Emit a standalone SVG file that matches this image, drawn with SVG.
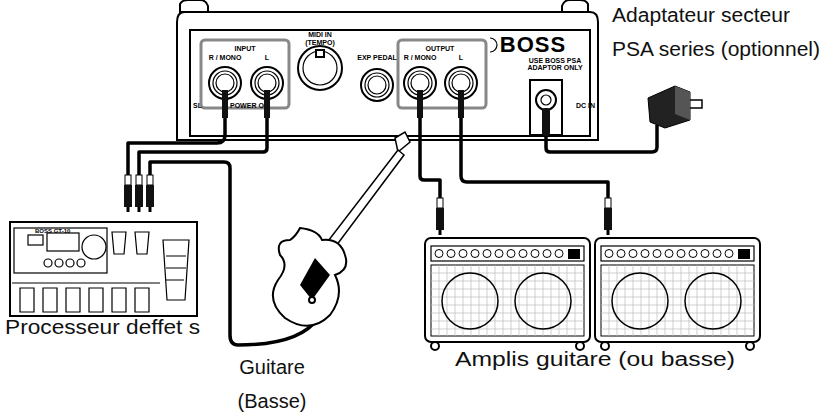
<svg xmlns="http://www.w3.org/2000/svg" width="823" height="418" viewBox="0 0 823 418">
<style>
.o{fill:#fff;stroke:#000;stroke-width:2}
.t{fill:none;stroke:#000;stroke-width:1.2}
.c{fill:none;stroke:#000;stroke-width:3.5;stroke-linejoin:round}
.g{fill:none;stroke:#888;stroke-width:3}
.lb{font-family:"Liberation Sans",Arial,sans-serif;font-size:20px;fill:#111}
.sm{font-family:"Liberation Sans",Arial,sans-serif;font-size:7px;font-weight:bold;fill:#000}
.plug{fill:#111}
</style>
<defs>
<g id="jack"><circle r="16" class="o"/><circle r="12" class="t"/><circle r="9" class="t"/></g>
<g id="plugd"><rect x="-3" y="0" width="6" height="10" fill="#fff" stroke="#000"/><rect x="-4" y="10" width="8" height="22" class="plug"/><rect x="-1.5" y="32" width="3" height="5" fill="#000"/></g>
<g id="amp">
<rect x="0" y="0" width="165" height="104" rx="6" class="o"/>
<rect x="6" y="8" width="153" height="15" class="t"/>
<g fill="#fff" stroke="#000"><circle cx="14" cy="15.5" r="4"/><circle cx="26" cy="15.5" r="4"/><circle cx="38" cy="15.5" r="4"/><circle cx="50" cy="15.5" r="4"/><circle cx="62" cy="15.5" r="4"/><circle cx="74" cy="15.5" r="4"/><circle cx="86" cy="15.5" r="4"/><circle cx="98" cy="15.5" r="4"/><circle cx="110" cy="15.5" r="4"/><circle cx="122" cy="15.5" r="4"/><circle cx="134" cy="15.5" r="4"/></g>
<rect x="143" y="11" width="12" height="10" fill="#000"/>
<rect x="6" y="27" width="153" height="71" fill="#fff" stroke="#000"/>
<path d="M6 35H159M6 43H159M6 51H159M6 59H159M6 67H159M6 75H159M6 83H159M6 91H159M14 27V98M22 27V98M30 27V98M38 27V98M46 27V98M54 27V98M62 27V98M70 27V98M78 27V98M86 27V98M94 27V98M102 27V98M110 27V98M118 27V98M126 27V98M134 27V98M142 27V98M150 27V98" stroke="#bbb" stroke-width="0.7"/>
<circle cx="45" cy="63" r="28" fill="none" stroke="#000" stroke-width="1.5"/>
<circle cx="118" cy="63" r="28" fill="none" stroke="#000" stroke-width="1.5"/>
<circle cx="10" cy="108" r="4" class="o"/><circle cx="155" cy="108" r="4" class="o"/>
</g>
</defs>

<g id="pedal">
<path d="M180 12 V4 Q182 0 188 0 H200 Q206 0 208 6 V12 Z" class="o"/>
<path d="M562 12 V6 Q564 0 570 0 H580 Q586 0 588 4 V12 Z" class="o"/>
<path d="M185 12 H590 Q598 12 598 22 V140 H177 V22 Q177 12 185 12 Z" class="o"/>
<rect x="190" y="30" width="400" height="106" class="o" stroke-width="1.5"/>
<rect x="201" y="40" width="88" height="68" rx="4" class="g"/>
<rect x="398" y="40" width="88" height="68" rx="4" class="g"/>
<text x="245" y="51" class="sm" text-anchor="middle">INPUT</text>
<text x="225" y="60" class="sm" text-anchor="middle">R / MONO</text>
<text x="267" y="60" class="sm" text-anchor="middle">L</text>
<text x="320" y="37" class="sm" text-anchor="middle">MIDI IN</text>
<text x="320" y="45" class="sm" text-anchor="middle">(TEMPO)</text>
<text x="377" y="60" class="sm" text-anchor="middle">EXP PEDAL</text>
<text x="440" y="51" class="sm" text-anchor="middle">OUTPUT</text>
<text x="420" y="60" class="sm" text-anchor="middle">R / MONO</text>
<text x="461" y="60" class="sm" text-anchor="middle">L</text>
<text x="193" y="108" class="sm">SL</text>
<text x="230" y="108" class="sm">POWER ON</text>
<text x="555" y="63" class="sm" text-anchor="middle" font-size="6">USE BOSS PSA</text>
<text x="555" y="70" class="sm" text-anchor="middle" font-size="6">ADAPTOR ONLY</text>
<text x="576" y="108" class="sm">DC IN</text>
<text x="533" y="52" font-family="Liberation Sans,Arial,sans-serif" font-size="22" font-weight="900" text-anchor="middle" letter-spacing="1">BOSS</text>
<path d="M490 38 a7 7 0 0 1 0 14" class="t"/>
<use href="#jack" x="225" y="83"/>
<use href="#jack" x="267" y="83"/>
<use href="#jack" x="377" y="85"/>
<use href="#jack" x="420" y="83"/>
<use href="#jack" x="461" y="83"/>
<circle cx="320" cy="68" r="22" class="o"/><circle cx="320" cy="68" r="17" class="t"/>
<rect x="316" y="50" width="8" height="7" class="o" stroke-width="1"/>
<path d="M530 80 H562 V135 H530 Z" class="o" stroke-width="1.5"/>
<circle cx="546" cy="100" r="10" class="o"/><circle cx="546" cy="100" r="5" class="t"/>
</g>

<g id="connectors">
<path d="M225 95 V135 Q225 143 217 143 H128 V175" class="c"/>
<path d="M267 95 V148 Q267 152 263 152 H139 V175" class="c"/>
<path d="M318 318 Q300 345 238 345 Q230 345 230 335 V168 Q230 162 224 162 H150 V175" class="c"/>
<path d="M420 95 V176 Q420 180 424 180 H440 V200" class="c"/>
<path d="M461 95 V176 Q461 182 467 182 H608 V200" class="c"/>
<path d="M546 110 V148 Q546 152 550 152 H652 Q657 152 657 147 V125" class="c"/>
<rect x="222" y="90" width="6" height="28" class="plug"/>
<rect x="264" y="90" width="6" height="28" class="plug"/>
<rect x="417" y="90" width="6" height="28" class="plug"/>
<rect x="458" y="90" width="6" height="28" class="plug"/>
<rect x="542" y="108" width="8" height="28" rx="3" class="plug"/>
</g>

<g id="plugs">
<use href="#plugd" x="128" y="175"/>
<use href="#plugd" x="139" y="175"/>
<use href="#plugd" x="150" y="175"/>
<use href="#plugd" x="440" y="198"/>
<use href="#plugd" x="608" y="198"/>
</g>

<g id="adapter">
<path d="M648 98 L675 86 L690 92 L690 120 L665 128 L650 122 Z" fill="#222" stroke="#000"/>
<path d="M675 86 L690 92 L690 120 L675 114 Z" fill="#555"/>
<path d="M690 100 H702 V108 H690" fill="none" stroke="#000" stroke-width="1.5"/>
</g>

<g id="processor">
<rect x="10" y="222" width="187" height="94" class="o" stroke-width="1.5"/>
<rect x="14" y="228" width="93" height="45" class="t"/>
<rect x="28" y="235" width="15" height="10" class="t"/>
<rect x="47" y="233" width="32" height="18" class="t"/>
<circle cx="94" cy="247" r="12" class="t"/>
<g class="t"><circle cx="48" cy="263" r="4"/><circle cx="59" cy="263" r="4"/><circle cx="70" cy="263" r="4"/><circle cx="81" cy="263" r="4"/></g>
<path d="M112 232 h14 l-2 22 h-10 Z M135 232 h14 l-2 22 h-10 Z" class="t"/>
<path d="M163 240 h26 l-4 60 h-18 Z" class="t"/>
<path d="M166 256 h20 M166 268 h20 M166 280 h18" class="t"/>
<line x1="12" y1="283" x2="160" y2="283" class="t"/>
<path d="M20 288 h14 v24 h-14 Z M43 288 h14 v24 h-14 Z M66 288 h14 v24 h-14 Z M89 288 h14 v24 h-14 Z M112 288 h14 v24 h-14 Z M135 288 h14 v24 h-14 Z" class="t"/>
<text x="35" y="233" font-family="Liberation Sans,Arial,sans-serif" font-size="6" font-weight="bold">BOSS GT-10</text>
</g>

<g id="guitar">
<path d="M395 138 L405 132 L410 142 L398 152 Z" fill="#fff" stroke="#000" stroke-width="1.5"/>
<path d="M398 150 L325 245 L333 250 L404 155 Z" fill="#fff" stroke="#000" stroke-width="1.5"/>
<path d="M300 228 Q318 230 322 240 Q340 238 345 255 Q350 270 335 275 Q345 295 330 315 Q310 335 285 318 Q265 300 278 280 Q290 265 280 255 Q275 240 290 240 Q296 236 300 228 Z" fill="#fff" stroke="#000" stroke-width="2"/>
<path d="M315 258 L300 285 L312 300 L330 275 Z" fill="#000"/>
<circle cx="312" cy="300" r="3" class="o"/>
</g>

<g id="amps">
<use href="#amp" x="425" y="238"/>
<use href="#amp" x="595" y="238"/>
</g>

<g id="labels">
<text x="612" y="22" class="lb" textLength="178" lengthAdjust="spacingAndGlyphs">Adaptateur secteur</text>
<text x="612" y="56" class="lb" textLength="208" lengthAdjust="spacingAndGlyphs">PSA series (optionnel)</text>
<text x="5" y="334" class="lb" textLength="195" lengthAdjust="spacingAndGlyphs">Processeur deffet s</text>
<text x="272" y="374" class="lb" text-anchor="middle">Guitare</text>
<text x="272" y="408" class="lb" text-anchor="middle">(Basse)</text>
<text x="455" y="366" class="lb" textLength="280" lengthAdjust="spacingAndGlyphs">Amplis guitare (ou basse)</text>
</g>
</svg>
